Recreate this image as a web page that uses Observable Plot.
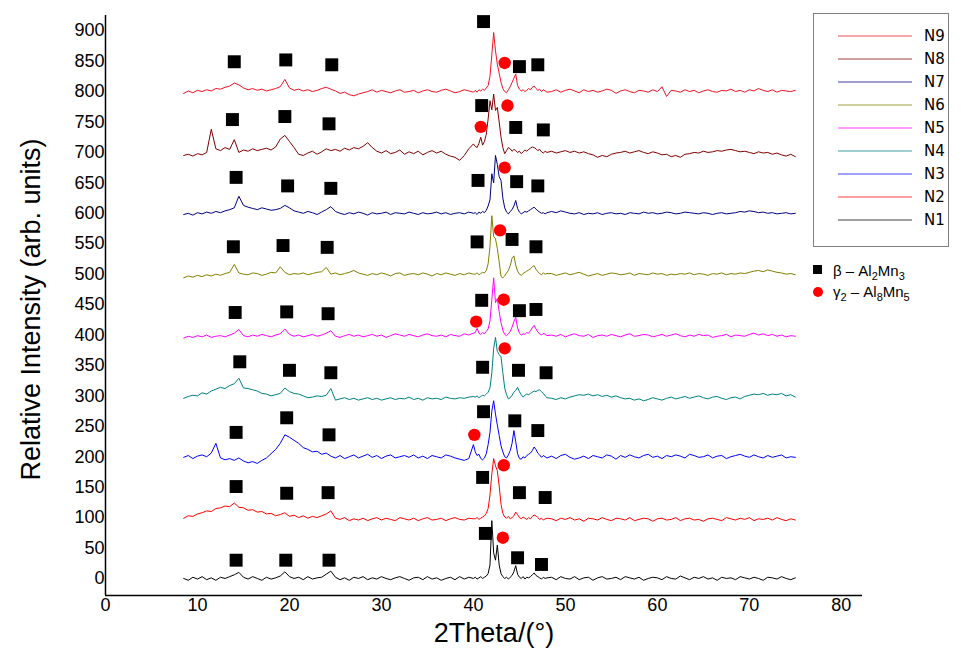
<!DOCTYPE html>
<html><head><meta charset="utf-8">
<script src="https://cdn.jsdelivr.net/npm/d3@7"></script>
<script src="https://cdn.jsdelivr.net/npm/@observablehq/plot@0.6"></script>
<style>
body{margin:0;background:#fff;}
#wrap{position:relative;width:961px;height:655px;overflow:hidden;}
#wrap svg{display:block;}
#legend{position:absolute;left:0;top:0;}
</style></head><body><div id="wrap"></div>
<script>
// ---- series meta ----
const seriesNames = ["N1","N2","N3","N4","N5","N6","N7","N8","N9"];
const seriesColors = ["#000000","#ff0000","#0000ff","#008080","#ff00ff","#808000","#000080","#800000","#ee1122"];
const offsets = [0,97,200,298,398,500,600,700,800];

// sampling grid of each part: start / step (2Theta, degrees)
const gridA = [8.5, 0.5];   // 8.5 .. 40.0
const gridB = [40.2, 0.2];  // 40.2 .. 48.0
const gridC = [48.5, 0.5];  // 48.5 .. 75.0

// ---- relative intensities ----
const N1a = [0,-3,2,-1,3,-2,1,-3,2,0, 3,6,10,2,-1,3,0,-3,2,-1, 1,4,11,3,0,2,-2,3,-1,1, 2,7,12,2,-2,1,-3,2,0,3, -2,1,-1,3,0,-2,1,3,0,-3, 1,2,-2,3,-1,1,-3,0,2,-2, 3,-1,2,0];
const N1b = [2,-1,1,3,0,2,4,8,22,95, 42,30,55,22,8,3,0,2,-1,2, 5,11,21,7,2,0,3,-1,2,1, 3,6,9,5,3,1,-1,2,0,1];
const N1c = [2,-2,3,0,-1,3,-2,1,2,-3, 1,3,-1,0,2,-2,3,1,-1,2, -3,0,2,1,-2,3,0,-1,4,1, -2,2,0,3,-1,1,-3,2,0,1, -2,3,1,-1,2,0,-3,2,1,-1, 3,0,-2,1];

const N2a = [2,6,5,9,11,14,13,18,19,22, 21,27,20,19,15,16,12,13,9,10, 6,8,11,5,7,3,6,2,5,3, 6,9,14,2,0,3,-2,1,-1,2, -2,1,3,-1,2,0,-2,3,1,-1, 2,-2,1,3,-1,0,2,-2,1,3, 0,-1,2,1];
const N2b = [1,3,0,2,4,6,10,18,40,75, 100,88,80,55,25,10,4,2,5,1, 3,6,12,8,3,1,4,2,0,3, 1,5,7,6,3,0,2,-1,1,2];
const N2c = [1,-2,2,0,3,-1,1,-3,2,1, -1,3,0,-2,2,1,-1,3,-2,0, 2,1,-3,1,2,-1,0,3,-2,1, 2,-1,0,-3,1,2,0,-2,3,1, -1,2,0,3,-2,1,0,2,-1,3, 0,-2,1,-1];

const N3a = [-1,2,-3,1,3,0,6,22,-2,-5, -3,-6,-2,-7,-10,-8,-11,-6,-2,5, 12,22,36,32,27,22,15,12,8,9, 4,6,1,-2,2,-3,0,3,-2,1, 4,-1,2,-3,1,3,-2,0,2,-1, 3,-2,1,-3,2,0,-2,3,1,-2, -4,-6,-3,20];
const N3b = [8,2,4,-3,-5,-2,5,20,40,75, 92,70,52,35,18,8,0,-2,3,10, 22,43,25,5,-3,-4,0,-2,2,4, 6,10,16,12,6,3,-1,2,0,-2];
const N3c = [1,-3,2,4,-1,-4,-2,1,-3,2, 0,-2,3,1,-4,2,-1,3,0,-2, 2,4,-1,1,-3,2,0,3,1,-2, 4,2,-1,0,3,-2,1,2,-3,0, 2,4,1,-1,3,0,-2,2,-1,1, 3,-2,0,-1];

const N4a = [-2,1,3,2,7,5,10,13,16,14, 19,22,31,15,14,12,10,6,5,2, 4,6,15,9,6,5,2,-1,0,2, 1,3,14,-5,-3,-1,-4,-2,-5,-3, -1,-4,-2,-5,-3,-1,-4,-2,-3,0, -4,-2,-5,-1,-3,-2,-4,0,-2,-3, -1,-2,0,1];
const N4b = [0,2,-1,1,3,2,5,8,15,40, 80,98,75,70,66,40,15,4,-3,-1, 3,8,11,16,9,4,0,3,5,4, 6,8,10,9,11,12,9,6,2,-1];
const N4c = [-2,-4,-1,-3,0,2,4,3,5,2, 4,1,3,0,2,-1,-3,-2,-5,-3, -6,-4,-1,-3,-5,-2,0,-3,-1,1, -2,0,2,-1,-3,0,1,-2,-4,-1, 0,-3,1,3,5,4,6,3,5,4, 6,2,4,0];

const N5a = [-3,0,-2,1,-1,2,-2,0,1,-1, 2,5,11,1,-1,2,0,3,1,-1, 2,4,12,3,0,2,-1,1,3,0, 2,5,9,0,-2,1,3,0,2,-1, 1,3,0,2,-2,1,4,2,0,3, 1,-1,2,4,1,0,2,-1,3,1, 0,4,2,5];
const N5b = [6,13,5,3,6,4,8,12,25,60, 96,55,62,40,22,10,3,1,4,8, 15,24,31,14,5,2,4,3,6,5, 9,14,18,12,7,4,2,5,3,1];
const N5c = [2,0,3,-1,2,4,1,0,3,-2, 1,2,0,3,1,-1,2,4,0,1, 3,2,-1,1,3,0,2,4,1,-1, 2,0,3,1,2,-2,0,1,3,-1, 2,1,0,3,5,2,4,1,3,0, 2,-1,1,0];

const N6a = [-6,-3,-5,-2,-4,-1,-3,0,-2,1, 3,16,2,0,-1,2,1,-2,0,3, 2,12,3,-1,1,0,2,-1,1,3, 4,11,0,2,-1,1,3,6,2,0, -2,1,-1,2,0,-3,1,2,-2,0, 1,-1,2,0,-3,1,-1,2,0,-2, 1,-1,2,0];
const N6b = [0,2,-1,1,3,2,6,17,45,96, 62,58,42,20,-4,-6,-3,2,6,14, 26,30,15,5,0,-2,1,3,5,7, 9,12,14,8,4,1,-1,2,0,1];
const N6c = [1,-2,0,2,-1,1,3,0,-3,-1, 1,-2,0,2,1,-1,0,2,-2,1, 0,-1,2,0,1,-2,0,-1,1,0, 2,-1,1,0,-2,1,0,2,-1,1, 0,2,1,3,5,6,4,7,5,3, 2,0,1,-1];

const N7a = [-2,0,-3,1,-1,2,0,3,1,4, 6,9,28,13,10,8,6,9,7,5, 6,8,13,9,4,2,0,3,1,-2, 2,6,11,3,0,-2,1,-1,2,0, -3,1,-1,0,2,-2,1,0,-1,2, 0,-2,1,-1,0,2,-1,1,-2,0, 1,-1,2,0];
const N7b = [1,-2,2,0,3,1,5,12,22,65, 50,95,80,60,54,25,9,2,-1,3, 6,12,21,8,2,-1,1,3,2,4, 6,8,10,7,4,2,0,1,-1,1];
const N7c = [3,1,4,2,0,-1,1,-2,0,-1, 1,-2,0,1,-1,0,-2,1,0,-1, 2,0,1,-1,0,2,1,-1,0,2, 1,0,-1,1,0,-2,0,1,-1,0, 1,3,2,4,3,1,2,0,1,-1, 0,1,-1,0];

const N8a = [-5,-3,-6,-2,-4,0,38,6,3,8, 5,21,0,4,2,6,3,5,7,4, 9,22,28,18,8,-3,-5,-1,2,-3, 1,6,3,5,2,7,4,8,6,10, 16,8,2,-1,3,-2,0,4,-3,1, -2,2,-4,0,3,-1,2,-3,-6,-8, -13,-5,6,14];
const N8b = [10,8,15,25,12,18,30,55,85,70, 96,69,74,50,25,8,-2,3,8,6, 2,5,3,0,2,-2,1,4,2,5, 7,9,8,6,3,5,1,-1,2,0];
const N8c = [2,-1,1,3,0,2,-1,1,-2,-4, -8,-5,-7,-3,-1,0,2,-1,1,3, 0,-2,1,-1,-4,-3,-7,-5,-8,-3, -2,0,-1,2,0,1,3,2,4,5, 3,1,2,0,-2,1,-1,0,-3,-1, -4,-6,-3,-7];

const N9a = [-3,1,-2,2,0,3,1,5,4,7, 9,14,11,6,3,5,2,4,1,3, 5,8,20,6,2,4,1,3,0,2, 5,7,4,1,-3,-1,-5,-7,-4,-2, 0,3,-1,2,0,-2,1,3,-1,0, 2,-2,1,3,0,-1,2,4,1,-2, 0,3,1,-1];
const N9b = [2,-1,3,1,4,2,6,10,25,60, 97,67,45,30,15,5,0,-2,3,8, 15,22,29,10,4,1,3,0,2,5, 3,7,9,5,2,4,0,3,1,-1];
const N9c = [0,3,-1,2,4,1,-2,3,0,2, -1,1,4,2,-3,1,3,0,-2,2, 1,-1,3,0,8,-8,2,1,-1,3, 0,2,-2,1,3,0,-1,2,1,4, 0,2,-1,3,1,5,2,0,3,-1, 2,1,0,2];

const seriesParts = [[N1a,N1b,N1c],[N2a,N2b,N2c],[N3a,N3b,N3c],[N4a,N4b,N4c],[N5a,N5b,N5c],[N6a,N6b,N6c],[N7a,N7b,N7c],[N8a,N8b,N8c],[N9a,N9b,N9c]];

// ---- phase markers ----
const betaTheta = [14.2,19.6,24.3,41.3,44.8,47.4, 14.2,19.7,24.2,41.0,45.0,47.8, 14.2,19.7,24.3,41.1,44.5,47.0, 14.6,20.0,24.5,41.0,44.9,47.9, 14.1,19.7,24.2,40.9,45.0,46.8, 13.9,19.3,24.1,40.4,44.2,46.8, 14.2,19.8,24.5,40.5,44.7,47.0, 13.8,19.5,24.3,40.9,44.6,47.6, 14.0,19.6,24.6,41.1,45.0,47.0];
const betaI = [30,30,30,74,34,23, 151,140,141,166,141,133, 240,264,236,274,259,243, 356,342,338,347,342,338, 437,438,435,457,440,442, 545,547,544,553,557,545, 659,645,641,654,652,645, 754,759,747,777,741,737, 849,852,844,915,841,844];
const gammaTheta = [43.2,43.3,40.1,43.4,43.3,40.3,42.9,43.4,43.7,40.8,43.4];
const gammaI = [67,186,236,378,458,422,572,675,777,742,847];

// ---- axes ----
const xTicks = [0,10,20,30,40,50,60,70,80];
const yTicks = [0,50,100,150,200,250,300,350,400,450,500,550,600,650,700,750,800,850,900];
const xLabel = "2Theta/(°)";
const yLabel = "Relative Intensity (arb. units)";
const legendBeta = ["β – Al", "2", "Mn", "3"];
const legendGamma = ["γ", "2", " – Al", "8", "Mn", "5"];

// ---- build table ----
const rows = [];
seriesParts.forEach((parts, s) => {
  [gridA, gridB, gridC].forEach((g, p) => {
    parts[p].forEach((v, i) => rows.push({series: seriesNames[s], theta: +(g[0] + g[1]*i).toFixed(2), intensity: v + offsets[s]}));
  });
});
const beta = betaTheta.map((t, i) => ({theta: t, intensity: betaI[i]}));
const gamma = gammaTheta.map((t, i) => ({theta: t, intensity: gammaI[i]}));

const font = "'Liberation Sans', Arial, sans-serif";
const chart = Plot.plot({
  width: 961, height: 655,
  marginLeft: 105, marginRight: 99, marginTop: 15, marginBottom: 60,
  style: {fontFamily: font, fontSize: "18px", background: "#fff", color: "#000"},
  x: {domain: [0, 82.3]},
  y: {domain: [-28, 925]},
  color: {domain: seriesNames, range: seriesColors},
  marks: [
    Plot.line(rows, {x: "theta", y: "intensity", z: "series", stroke: "series", strokeWidth: 1}),
    Plot.dot(beta, {x: "theta", y: "intensity", symbol: "square", r: 7.3, fill: "#000"}),
    Plot.dot(gamma, {x: "theta", y: "intensity", r: 6.2, fill: "#ff0000"}),
    Plot.ruleX([0], {stroke: "#000", strokeWidth: 1.5}),
    Plot.ruleY([-28], {stroke: "#000", strokeWidth: 1.5}),
    Plot.axisY({ticks: yTicks, tickSize: 0, tickPadding: 1, label: null, fontSize: 18}),
    Plot.axisX({ticks: xTicks, tickSize: 0, tickPadding: 3, label: null, fontSize: 18}),
    Plot.text([yLabel], {frameAnchor: "left", textAnchor: "middle", rotate: -90, dx: -74, dy: 4, fontSize: 27}),
    Plot.text([xLabel], {frameAnchor: "bottom", textAnchor: "middle", dx: 10, dy: 46, fontSize: 27})
  ]
});
const wrap = document.getElementById("wrap");
wrap.appendChild(chart);

// ---- legend overlay ----
const lg = d3.select(wrap).append("svg").attr("id", "legend").attr("width", 961).attr("height", 655)
  .style("font-family", font);
lg.append("rect").attr("x", 813.5).attr("y", 13.5).attr("width", 135).attr("height", 233)
  .attr("fill", "#fff").attr("stroke", "#808080").attr("stroke-width", 1);
const order = seriesNames.slice().reverse();
order.forEach((n, i) => {
  const yy = 36 + i * 23;
  const c = seriesColors[seriesNames.indexOf(n)];
  lg.append("line").attr("x1", 838).attr("x2", 912).attr("y1", yy).attr("y2", yy)
    .attr("stroke", c).attr("stroke-width", 1.5).attr("stroke-opacity", 0.5);
  lg.append("text").attr("x", 924).attr("y", yy).attr("dy", "0.36em")
    .style("font-family", "'DejaVu Sans', Verdana, sans-serif").style("font-size", "15px").text(n);
});
lg.append("rect").attr("x", 813).attr("y", 265).attr("width", 9).attr("height", 9).attr("fill", "#000");
lg.append("circle").attr("cx", 818).attr("cy", 292).attr("r", 5).attr("fill", "#ff0000");
function rich(y, parts, subIdx) {
  const t = lg.append("text").attr("x", 833).attr("y", y).style("font-size", "15px");
  parts.forEach((p, i) => {
    const sub = subIdx.includes(i);
    t.append("tspan").attr("dy", sub ? 4 : (i > 0 && subIdx.includes(i-1) ? -4 : 0))
      .style("font-size", sub ? "11px" : "15px").text(p);
  });
}
rich(276, legendBeta, [1,3]);
rich(297, legendGamma, [1,3,5]);
</script></body></html>
